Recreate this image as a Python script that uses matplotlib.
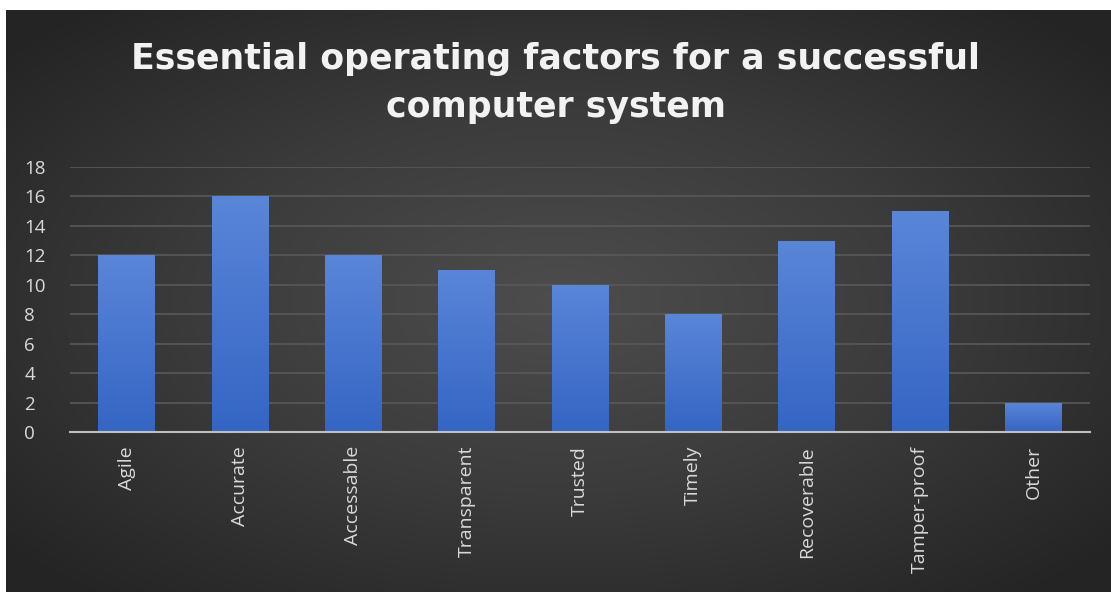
import numpy as np
import matplotlib
matplotlib.use("Agg")
import matplotlib.pyplot as plt
from matplotlib.colors import LinearSegmentedColormap

categories = ["Agile", "Accurate", "Accessable", "Transparent", "Trusted",
              "Timely", "Recoverable", "Tamper-proof", "Other"]
counts = [12, 16, 12, 11, 10, 8, 13, 15, 2]
y_ticks = [0, 2, 4, 6, 8, 10, 12, 14, 16, 18]

title = "Essential operating factors for a successful\ncomputer system"
text_color = "#d9d9d9"

fig = plt.figure(figsize=(11.11, 5.92), dpi=100, facecolor="white")

# dark panel with a soft radial glow in the middle
bg = fig.add_axes([6 / 1111, 0, 1 - 6 / 1111, 1 - 10 / 592])
bg.set_axis_off()
yy, xx = np.mgrid[-1:1:300j, -1:1:600j]
r = np.sqrt((xx * 0.9) ** 2 + (yy * 0.9) ** 2)
bg_cmap = LinearSegmentedColormap.from_list("panel", ["#4d4d4d", "#3b3b3b", "#242424"])
bg.imshow(r, cmap=bg_cmap, aspect="auto", extent=[0, 1, 0, 1], vmin=0, vmax=1.2)

ax = fig.add_axes([70 / 1111, 1 - 432 / 592, 1020 / 1111, 265 / 592])
ax.patch.set_alpha(0)

x = np.arange(len(categories))
bar_cmap = LinearSegmentedColormap.from_list("bar", ["#3565c4", "#5a86d8"])
grad = np.linspace(0, 1, 256).reshape(-1, 1)
for xi, v in zip(x, counts):
    bar = ax.bar(xi, v, width=0.5, color="none", edgecolor="none", zorder=3)[0]
    im = ax.imshow(grad, cmap=bar_cmap, origin="lower", aspect="auto",
                   extent=[xi - 0.25, xi + 0.25, 0, v], zorder=3)
    im.set_clip_path(bar)

ax.set_xlim(-0.5, len(categories) - 0.5)
ax.set_ylim(0, 18)
ax.set_yticks(y_ticks)
ax.set_xticks(x)
ax.set_xticklabels(categories, rotation=90, fontsize=14, color=text_color,
                   family="Open Sans")
ax.tick_params(axis="y", labelsize=13.5, colors=text_color, length=0, pad=33)
ax.tick_params(axis="x", length=0, pad=10)
for lbl in ax.get_yticklabels():
    lbl.set_family("Open Sans")
    lbl.set_horizontalalignment("left")

ax.grid(axis="y", color="#595959", linewidth=1.2, zorder=0)
ax.set_axisbelow(True)
for side in ["top", "right", "left"]:
    ax.spines[side].set_visible(False)
ax.spines["bottom"].set_color("#bfbfbf")
ax.spines["bottom"].set_linewidth(1.5)
ax.spines["bottom"].set_zorder(4)

fig.text(0.5, 1 - 83 / 592, title, ha="center", va="center", fontsize=25,
         fontweight="bold", color="#f2f2f2", family="DejaVu Sans",
         linespacing=1.55)

fig.savefig("out.png", dpi=100, facecolor=fig.get_facecolor())
